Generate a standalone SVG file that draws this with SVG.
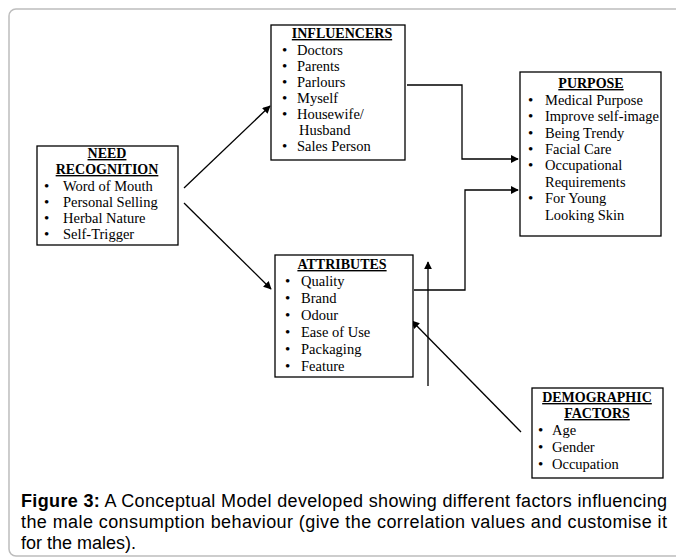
<svg xmlns="http://www.w3.org/2000/svg" width="676" height="559" viewBox="0 0 676 559">
<style>
.box{fill:#fff;stroke:#000;stroke-width:1.3}
.t{font-family:"Liberation Serif","Times New Roman",serif;font-size:14.5px;fill:#000}
.b{font-family:"Liberation Serif","Times New Roman",serif;font-size:15px;fill:#000}
.h{font-family:"Liberation Serif","Times New Roman",serif;font-size:14px;font-weight:bold;text-decoration:underline;fill:#000}
.c{font-family:"Liberation Sans",Arial,sans-serif;font-size:18px;fill:#000}
.ln{fill:none;stroke:#000;stroke-width:1.3}
</style>
<defs>
<marker id="ah" viewBox="0 0 10 10" refX="9" refY="5" markerWidth="8" markerHeight="8" markerUnits="userSpaceOnUse" orient="auto">
<path d="M0,0 L10,5 L0,10 z" fill="#000"/>
</marker>
</defs>
<rect x="9" y="9" width="700" height="547" rx="7" fill="#fff" stroke="#bdbdbd" stroke-width="1.5"/>

<g id="connectors">
<line class="ln" x1="184" y1="188" x2="270" y2="106" marker-end="url(#ah)"/>
<line class="ln" x1="184" y1="203" x2="271" y2="289" marker-end="url(#ah)"/>
<polyline class="ln" points="407,85 462,85 462,159 518,159" marker-end="url(#ah)"/>
<polyline class="ln" points="414,290 465,290 465,190 518,190" marker-end="url(#ah)"/>
<line class="ln" x1="428" y1="386" x2="428" y2="262" marker-end="url(#ah)"/>
<line class="ln" x1="521" y1="432" x2="412" y2="321" marker-end="url(#ah)"/>
</g>

<g id="influencers">
<rect class="box" x="271" y="25" width="134" height="135"/>
<text class="h" x="342" y="38" text-anchor="middle">INFLUENCERS</text>
<text class="b" x="282" y="55">•</text><text class="t" x="297" y="55">Doctors</text>
<text class="b" x="282" y="71">•</text><text class="t" x="297" y="71">Parents</text>
<text class="b" x="282" y="87">•</text><text class="t" x="297" y="87">Parlours</text>
<text class="b" x="282" y="103">•</text><text class="t" x="297" y="103">Myself</text>
<text class="b" x="282" y="119">•</text><text class="t" x="297" y="119">Housewife/</text>
<text class="t" x="299" y="135">Husband</text>
<text class="b" x="282" y="151">•</text><text class="t" x="297" y="151">Sales Person</text>
</g>

<g id="need">
<rect class="box" x="37" y="146" width="141" height="99"/>
<text class="h" x="107" y="158" text-anchor="middle">NEED</text>
<text class="h" x="107" y="174" text-anchor="middle">RECOGNITION</text>
<text class="b" x="44" y="191">•</text><text class="t" x="63" y="191">Word of Mouth</text>
<text class="b" x="44" y="207">•</text><text class="t" x="63" y="207">Personal Selling</text>
<text class="b" x="44" y="223">•</text><text class="t" x="63" y="223">Herbal Nature</text>
<text class="b" x="44" y="239">•</text><text class="t" x="63" y="239">Self-Trigger</text>
</g>

<g id="purpose">
<rect class="box" x="520" y="72" width="141" height="164"/>
<text class="h" x="591" y="88" text-anchor="middle">PURPOSE</text>
<text class="b" x="528" y="105">•</text><text class="t" x="545" y="105">Medical Purpose</text>
<text class="b" x="528" y="121">•</text><text class="t" x="545" y="121">Improve self-image</text>
<text class="b" x="528" y="138">•</text><text class="t" x="545" y="138">Being Trendy</text>
<text class="b" x="528" y="154">•</text><text class="t" x="545" y="154">Facial Care</text>
<text class="b" x="528" y="170">•</text><text class="t" x="545" y="170">Occupational</text>
<text class="t" x="545" y="187">Requirements</text>
<text class="b" x="528" y="203">•</text><text class="t" x="545" y="203">For Young</text>
<text class="t" x="545" y="220">Looking Skin</text>
</g>

<g id="attributes">
<rect class="box" x="275" y="255" width="138" height="122"/>
<text class="h" x="342" y="269" text-anchor="middle">ATTRIBUTES</text>
<text class="b" x="285" y="286">•</text><text class="t" x="301" y="286">Quality</text>
<text class="b" x="285" y="303">•</text><text class="t" x="301" y="303">Brand</text>
<text class="b" x="285" y="320">•</text><text class="t" x="301" y="320">Odour</text>
<text class="b" x="285" y="337">•</text><text class="t" x="301" y="337">Ease of Use</text>
<text class="b" x="285" y="354">•</text><text class="t" x="301" y="354">Packaging</text>
<text class="b" x="285" y="371">•</text><text class="t" x="301" y="371">Feature</text>
</g>

<g id="demographic">
<rect class="box" x="532" y="388" width="131" height="90"/>
<text class="h" x="597" y="402" text-anchor="middle">DEMOGRAPHIC</text>
<text class="h" x="597" y="418" text-anchor="middle">FACTORS</text>
<text class="b" x="538" y="435">•</text><text class="t" x="552" y="435">Age</text>
<text class="b" x="538" y="452">•</text><text class="t" x="552" y="452">Gender</text>
<text class="b" x="538" y="469">•</text><text class="t" x="552" y="469">Occupation</text>
</g>

<g id="caption">
<text class="c" x="21" y="507" textLength="646" lengthAdjust="spacing"><tspan font-weight="bold">Figure 3:</tspan> A Conceptual Model developed showing different factors influencing</text>
<text class="c" x="21" y="528" textLength="646" lengthAdjust="spacing">the male consumption behaviour (give the correlation values and customise it</text>
<text class="c" x="21" y="549">for the males).</text>
</g>
</svg>
